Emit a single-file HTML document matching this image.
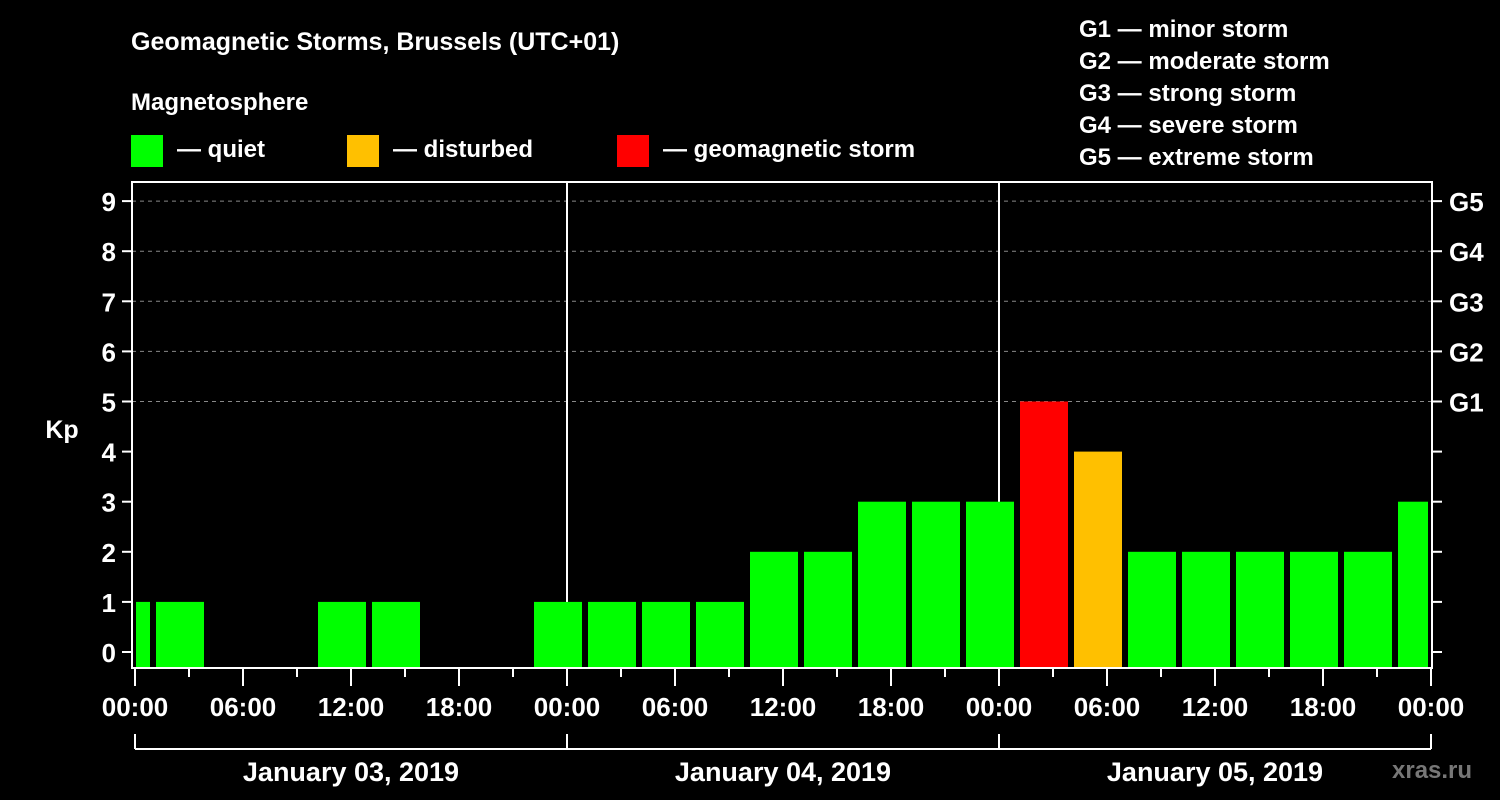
<!DOCTYPE html>
<html><head><meta charset="utf-8"><style>
html,body{margin:0;padding:0;background:#000;}
svg{display:block;font-family:"Liberation Sans",Arial,sans-serif;font-weight:bold;}
</style></head><body>
<svg id="chart" width="1500" height="800" viewBox="0 0 1500 800">
<rect x="0" y="0" width="1500" height="800" fill="#000"/>
<text x="131" y="50" fill="#fff" font-size="25">Geomagnetic Storms, Brussels (UTC+01)</text>
<text x="131" y="110" fill="#fff" font-size="24">Magnetosphere</text>
<g><rect x="131" y="135" width="32" height="32" fill="#00ff00"/><text x="177" y="157" fill="#fff" font-size="24">— quiet</text></g>
<g><rect x="347" y="135" width="32" height="32" fill="#ffc000"/><text x="393" y="157" fill="#fff" font-size="24">— disturbed</text></g>
<g><rect x="617" y="135" width="32" height="32" fill="#ff0000"/><text x="663" y="157" fill="#fff" font-size="24">— geomagnetic storm</text></g>
<g fill="#fff" font-size="24">
<text x="1079" y="37">G1 — minor storm</text>
<text x="1079" y="69">G2 — moderate storm</text>
<text x="1079" y="101">G3 — strong storm</text>
<text x="1079" y="133">G4 — severe storm</text>
<text x="1079" y="165">G5 — extreme storm</text>
</g>
<text x="62" y="438" fill="#fff" font-size="25" text-anchor="middle">Kp</text>
<text x="1392" y="778" fill="#777" font-size="24">xras.ru</text>
<g id="grid"></g><g id="bars"></g><g id="axes"></g>
</svg>
<script>
const kpValues = [1,1,0,0,1,1,0,0,1,1,1,1,2,2,3,3,3,5,4,2,2,2,2,2,3];
const startHour = -2; // first interval begins 22:00 of previous day (UTC+01)
const yTicks = [0,1,2,3,4,5,6,7,8,9];
const gLabels = ["G1","G2","G3","G4","G5"];
const xTickLabels = ["00:00","06:00","12:00","18:00","00:00","06:00","12:00","18:00","00:00","06:00","12:00","18:00","00:00"];
const dayLabels = ["January 03, 2019","January 04, 2019","January 05, 2019"];

const NS="http://www.w3.org/2000/svg";
const L=132,R=1432,T=182,B=668,X0=135,PXH=18;
const xs=h=>X0+h*PXH;
const ys=v=>652-v*50.1;
function mk(tag,attrs,parent){const e=document.createElementNS(NS,tag);for(const k in attrs)e.setAttribute(k,attrs[k]);parent.appendChild(e);return e;}
const grid=document.getElementById('grid'),bars=document.getElementById('bars'),axes=document.getElementById('axes');
function col(v){return v>=5?'#ff0000':(v>=4?'#ffc000':'#00ff00');}
kpValues.forEach((v,i)=>{
  if(v<=0)return;
  let a=xs(startHour+i*3)+3,b=xs(startHour+i*3+3)-3;
  a=Math.max(a,L+4);b=Math.min(b,R-4);
  const r=mk('rect',{x:a,y:ys(v),width:b-a,height:B-ys(v),fill:col(v)},bars);
  
  
});
gLabels.forEach((g,i)=>{
  const y=ys(5+i);
  const l=mk('line',{x1:L,x2:R,y1:y,y2:y,stroke:'#888','stroke-dasharray':'4,4','stroke-width':1},grid);
  
  
  const t=mk('text',{x:1449,y:y+10,fill:'#fff','font-size':26},axes);t.textContent=g;
  
  
});
// day dividers
[1,2].forEach(d=>{const l=mk('line',{x1:xs(24*d),x2:xs(24*d),y1:T,y2:B,stroke:'#fff','stroke-width':2},grid);
  
  });
// frame
const f=mk('rect',{x:L,y:T,width:R-L,height:B-T,fill:'none',stroke:'#fff','stroke-width':2},axes);


yTicks.forEach(v=>{
  const y=ys(v);
  mk('line',{x1:L-10,x2:L,y1:y,y2:y,stroke:'#fff','stroke-width':2},axes);
  mk('line',{x1:R,x2:R+10,y1:y,y2:y,stroke:'#fff','stroke-width':2},axes);
  const t=mk('text',{x:L-16,y:y+10,fill:'#fff','font-size':26,'text-anchor':'end'},axes);t.textContent=v;
  
  
});
for(let h=0;h<=72;h+=3){
  const x=xs(h),maj=h%6===0;
  mk('line',{x1:x,x2:x,y1:B,y2:B+(maj?18:9),stroke:'#fff','stroke-width':2},axes);
}
xTickLabels.forEach((s,i)=>{
  const t=mk('text',{x:xs(i*6),y:716,fill:'#fff','font-size':26,'text-anchor':'middle'},axes);t.textContent=s;
  
  
});
mk('line',{x1:xs(0),x2:xs(72),y1:749,y2:749,stroke:'#fff','stroke-width':2},axes);
for(let d=0;d<=3;d++)mk('line',{x1:xs(24*d),x2:xs(24*d),y1:734,y2:749,stroke:'#fff','stroke-width':2},axes);
dayLabels.forEach((s,i)=>{
  const t=mk('text',{x:xs(24*i+12),y:781,fill:'#fff','font-size':27,'text-anchor':'middle'},axes);t.textContent=s;
  
  
});
</script>
</body></html>
